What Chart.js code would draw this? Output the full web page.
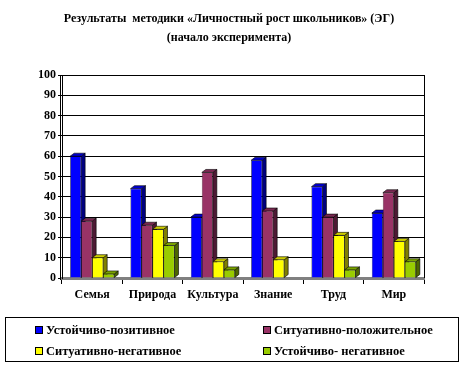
<!DOCTYPE html>
<html>
<head>
<meta charset="utf-8">
<script src="https://cdn.jsdelivr.net/npm/chart.js@4"></script>
<style>
  body { margin: 0; background: #fff; }
  #wrap { position: relative; width: 460px; height: 371px; font-family: 'Liberation Serif', 'Times New Roman', serif; font-weight: bold; color: #000; }
  #title { position: absolute; left: 0; top: 9px; width: 458px; text-align: center; font-size: 12px; line-height: 19px; }
  #chart { position: absolute; left: 0; top: 0; }
  #legend { position: absolute; left: 5px; top: 317px; width: 454px; height: 45px; border: 1px solid #000; box-sizing: border-box; font-size: 12.5px; }
  .item { position: absolute; display: flex; align-items: center; height: 14px; white-space: nowrap; }
  .box { width: 6px; height: 6px; border: 1px solid #000; margin-right: 3px; }
</style>
</head>
<body>
<div id="wrap">
  <canvas id="chart" width="460" height="371"></canvas>
  <div id="title">Результаты&nbsp; методики «Личностный рост школьников» (ЭГ)<br>(начало эксперимента)</div>
  <div id="legend"></div>
</div>
<script>
// Данные диаграммы
const categories = ['Семья', 'Природа', 'Культура', 'Знание', 'Труд', 'Мир'];
const seriesNames = ['Устойчиво-позитивное', 'Ситуативно-положительное', 'Ситуативно-негативное', 'Устойчиво- негативное'];
const stablePositive = [60, 44, 30, 58, 45, 32];
const situationalPositive = [28, 26, 52, 33, 30, 42];
const situationalNegative = [10, 24, 8, 9, 21, 18];
const stableNegative = [2, 16, 4, 0, 4, 8];
const yTicks = [0, 10, 20, 30, 40, 50, 60, 70, 80, 90, 100];

const frontColors = ['#0000FF', '#993366', '#FFFF00', '#99CC00'];
const sideColors = ['#000080', '#4D1933', '#808000', '#4D6600'];
const topColors = ['#0000CC', '#7A2952', '#CCCC00', '#7AA300'];
const DX = 4, DY = 3; // глубина 3D

// Рисуем боковые грани и верх столбиков до передних граней
const depth3d = {
    id: 'depth3d',
    beforeDatasetsDraw(chart) {
        const ctx = chart.ctx;
        ctx.save();
        ctx.lineWidth = 0.6;
        ctx.strokeStyle = '#000';
        categories.forEach((c, j) => {
            chart.data.datasets.forEach((ds, i) => {
                if (!ds.data[j]) return;
                const bar = chart.getDatasetMeta(i).data[j];
                const l = bar.x - bar.width / 2, r = bar.x + bar.width / 2;
                const t = bar.y, b = bar.base;
                // бок
                ctx.fillStyle = sideColors[i];
                ctx.beginPath();
                ctx.moveTo(r, t); ctx.lineTo(r + DX, t - DY); ctx.lineTo(r + DX, b - DY); ctx.lineTo(r, b);
                ctx.closePath(); ctx.fill(); ctx.stroke();
                // верх
                ctx.fillStyle = topColors[i];
                ctx.beginPath();
                ctx.moveTo(l, t); ctx.lineTo(l + DX, t - DY); ctx.lineTo(r + DX, t - DY); ctx.lineTo(r, t);
                ctx.closePath(); ctx.fill(); ctx.stroke();
            });
        });
        ctx.restore();
    },
    afterDraw(chart) {
        const { ctx, chartArea: a } = chart;
        ctx.save();
        ctx.strokeStyle = '#000';
        ctx.lineWidth = 1;
        ctx.beginPath();
        ctx.moveTo(a.right + 0.5, a.top); ctx.lineTo(a.right + 0.5, a.bottom);
        ctx.moveTo(a.left - 1.5, a.top); ctx.lineTo(a.left - 1.5, a.bottom + 2);
        ctx.stroke();
        ctx.restore();
    }
};

const seriesData = [stablePositive, situationalPositive, situationalNegative, stableNegative];
const tickFont = { family: "'Liberation Serif', 'Times New Roman', serif", size: 12, weight: 'bold' };

new Chart(document.getElementById('chart'), {
    type: 'bar',
    data: {
        labels: categories,
        datasets: seriesData.map((d, i) => ({
            label: seriesNames[i],
            data: d,
            backgroundColor: frontColors[i],
            borderColor: '#000',
            borderWidth: 0.6,
            borderSkipped: 'bottom',
            barPercentage: 1,
            categoryPercentage: 0.73
        }))
    },
    options: {
        responsive: false,
        animation: false,
        layout: { padding: { left: 20, right: 36, top: 75, bottom: 63 } },
        plugins: { legend: { display: false }, title: { display: false }, tooltip: { enabled: false } },
        scales: {
            x: {
                afterFit(s) { s.height = 30; },
                grid: { offset: true, drawOnChartArea: false, color: '#000', tickLength: 6 },
                border: { color: '#808080', width: 3 },
                ticks: { color: '#000', font: tickFont, padding: 4 }
            },
            y: {
                min: 0, max: 100,
                afterFit(s) { s.width = 42; },
                afterBuildTicks(s) { s.ticks = yTicks.map(v => ({ value: v })); },
                grid: { color: '#000', tickLength: 4 },
                border: { color: '#000', width: 1 },
                ticks: { color: '#000', font: tickFont, padding: 2 }
            }
        }
    },
    plugins: [depth3d]
});

// Легенда
const legend = document.getElementById('legend');
const legendPos = [[29, 5], [257, 5], [29, 26], [257, 26]];
legend.innerHTML = seriesNames.map((name, i) => `
    <div class="item" style="left:${legendPos[i][0]}px;top:${legendPos[i][1]}px">
        <div class="box" style="background:${frontColors[i]}"></div><span>${name}</span>
    </div>`).join('');
</script>
</body>
</html>
